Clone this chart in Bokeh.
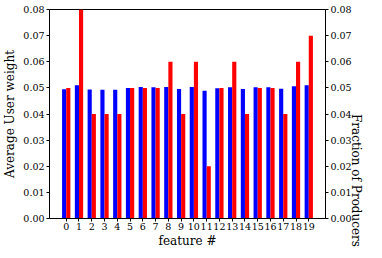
import math
from bokeh.plotting import figure
from bokeh.models import Range1d, LinearAxis, FixedTicker, PrintfTickFormatter
from bokeh.embed import file_html
from bokeh.resources import INLINE

features = list(range(20))
avg_user_weight = [0.0495, 0.0510, 0.0494, 0.0493, 0.0493, 0.0500, 0.0503, 0.0502,
                   0.0503, 0.0496, 0.0503, 0.0489, 0.0499, 0.0502, 0.0496, 0.0502,
                   0.0502, 0.0497, 0.0506, 0.0510]
frac_producers = [0.05, 0.08, 0.04, 0.04, 0.04, 0.05, 0.05, 0.05, 0.06, 0.04,
                  0.06, 0.02, 0.05, 0.06, 0.04, 0.05, 0.05, 0.04, 0.06, 0.07]
y_ticks = [0.0, 0.01, 0.02, 0.03, 0.04, 0.05, 0.06, 0.07, 0.08]

bw = 0.325
FONT = "DejaVu Serif"

p = figure(width=372, height=250, output_backend="svg", toolbar_location=None,
           x_range=Range1d(-1.31, 20.31), y_range=Range1d(0, 0.08),
           min_border_top=9, min_border_left=0, min_border_right=0, min_border_bottom=0)
p.extra_y_ranges = {"right": Range1d(0, 0.08)}

p.vbar(x=[f - bw / 2 for f in features], top=avg_user_weight, width=bw,
       fill_color="blue", line_color=None)
p.vbar(x=[f + bw / 2 for f in features], top=frac_producers, width=bw,
       fill_color="red", line_color=None, y_range_name="right")

right = LinearAxis(y_range_name="right", axis_label="Fraction of Producers")
p.add_layout(right, "right")
right.axis_label_orientation = -math.pi / 2

p.xgrid.visible = False
p.ygrid.visible = False
p.outline_line_color = "black"
p.outline_line_width = 1
p.outline_line_alpha = 1

p.xaxis.axis_label = "feature #"
p.yaxis[0].axis_label = "Average User weight"
p.xaxis.ticker = FixedTicker(ticks=features)

for ax in p.yaxis:
    ax.ticker = FixedTicker(ticks=y_ticks)
    ax.formatter = PrintfTickFormatter(format="%.2f")

for ax in list(p.xaxis) + list(p.yaxis):
    ax.axis_label_text_font = FONT
    ax.axis_label_text_font_style = "normal"
    ax.axis_label_text_font_size = "12px"
    ax.axis_label_text_color = "black"
    ax.major_label_text_font = FONT
    ax.major_label_text_font_size = "9.5px"
    ax.major_label_text_color = "black"
    ax.major_tick_in = 0
    ax.major_tick_out = 3
    ax.minor_tick_in = 0
    ax.minor_tick_out = 0
    ax.major_label_standoff = 2
    ax.axis_label_standoff = 3
    ax.axis_line_color = "black"
    ax.major_tick_line_color = "black"

p.xaxis.major_label_standoff = 1
p.xaxis.axis_label_standoff = 1
right.axis_label_standoff = 1

open("out.html", "w").write(file_html(p, INLINE))
